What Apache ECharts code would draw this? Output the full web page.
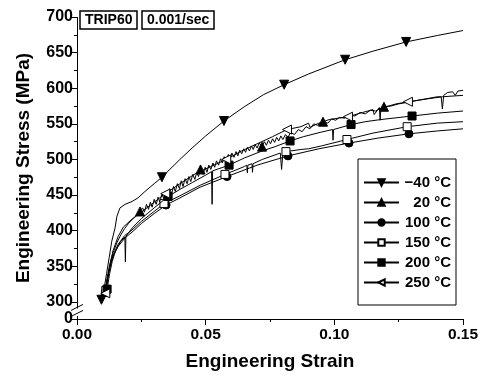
<!DOCTYPE html>
<html><head><meta charset="utf-8">
<script src="https://cdn.jsdelivr.net/npm/echarts@6/dist/echarts.min.js"></script>
<style>html,body{margin:0;padding:0;background:#fff}#c{width:488px;height:376px}</style>
</head><body><div id="c"></div>
<script>
// ---- data (strain, engineering stress MPa) ----
const names = ['\u221240 \u00b0C', '20 \u00b0C', '100 \u00b0C', '150 \u00b0C', '200 \u00b0C', '250 \u00b0C'];

const xM40 = [0.0095,0.0105,0.0115,0.0125,0.0135,0.0148,0.0155,0.0167,0.0187,0.0214,0.0237,0.0264,0.0300,0.0330,0.0400,0.0450,0.0500,0.0571,0.0650,0.0725,0.0805,0.0900,0.1042,0.1150,0.1279,0.1400,0.1500];
const yM40 = [303,318,340,362,385,404,420,432,437,441,446,455,466,475,500,517,533,554,574,591,605,620,640,652,665,674,681];
const mM40 = [0.0095,0.0330,0.0571,0.0805,0.1042,0.1279];

const x20 = [0.0100,0.0108,0.0118,0.0128,0.0140,0.0155,0.0170,0.0185,0.0200,0.0215,0.0230,0.0245,
0.0255,0.0262,0.0270,0.0278,0.0285,0.0292,0.0300,0.0308,0.0315,0.0322,0.0330,0.0338,0.0345,0.0352,0.0360,0.0368,0.0375,0.0382,0.0390,0.0398,0.0405,0.0412,0.0420,0.0428,0.0435,0.0442,0.0450,0.0458,0.0465,0.0472,0.0480,0.0490,0.0498,0.0505,0.0512,0.0520,0.0528,0.0535,0.0542,0.0550,0.0558,0.0565,0.0572,0.0580,0.0588,0.0595,0.0602,0.0610,0.0618,0.0625,0.0632,0.0640,0.0648,0.0655,0.0662,0.0670,0.0678,0.0685,0.0692,0.0700,0.0708,0.0719,0.0728,0.0736,0.0744,0.0752,0.0760,0.0768,0.0776,0.0784,0.0792,0.0800,0.0810,0.0820,0.0830,0.0845,0.0860,0.0875,0.0890,0.0905,0.0920,0.0935,0.0956,0.0975,0.0990,0.1005,0.1020,0.1040,0.1060,0.1080,0.1100,0.1120,0.1140,0.1160,0.1193,0.1220,0.1250,0.1280,0.1310,0.1340,0.1370,0.1400,0.1415,0.1420,0.1425,0.1440,0.1460,0.1470,0.1480,0.1500];
const y20 = [304,314,336,354,369,383,394,403,410,416,421,427,
432,426,437,430,440,433,444,437,447,440,452,444,455,448,459,452,462,455,466,459,470,462,473,466,476,469,479,472,482,476,486,479,489,482,492,486,495,489,498,492,501,495,504,498,507,501,509,503,511,505,513,508,515,510,517,512,519,514,521,516,523,518,525,520,527,522,529,524,531,526,533,528,535,531,538,535,542,539,546,543,550,548,553,551,557,555,559,558,562,561,566,564,569,568,574,575,578,580,582,584,586,588,588,571,590,594,595,590,596,597];
const m20 = [0.0108,0.0245,0.0480,0.0719,0.0956,0.1193];

const x100 = [0.0100,0.0110,0.0120,0.0130,0.0140,0.0160,0.0187,0.0214,0.0250,0.0300,0.0346,0.0400,0.0478,0.0583,0.0700,0.0820,0.0940,0.1057,0.1170,0.1290,0.1400,0.1500];
const y100 = [305,314,336,352,364,378,390,398,410,424,436,446,461,476,492,505,515,523,530,536,540,543];
const m100 = [0.0110,0.0346,0.0583,0.0820,0.1057,0.1290];

const x150 = [0.0100,0.0112,0.0122,0.0132,0.0142,0.0160,0.0185,0.0214,0.0250,0.0300,0.0338,0.0400,0.0480,0.0575,0.0650,0.0660,0.0662,0.0664,0.0680,0.0682,0.0684,0.0720,0.0790,0.0795,0.0800,0.0812,0.0870,0.0900,0.0950,0.1049,0.1150,0.1283,0.1400,0.1500];
const y150 = [304,316,338,355,367,381,393,401,413,427,438,449,464,479,490,492,481,492,494,482,494,500,509,486,509,511,514,515,519,528,537,546,551,553];
const m150 = [0.0112,0.0338,0.0575,0.0812,0.1049,0.1283];

const x200 = [0.0100,0.0117,0.0127,0.0137,0.0150,0.0170,0.0186,0.0188,0.0190,0.0215,0.0250,0.0300,0.0354,0.0400,0.0450,0.0500,0.0523,0.0525,0.0527,0.0591,0.0650,0.0720,0.0770,0.0828,0.0880,0.0945,0.0993,0.0995,0.0997,0.1065,0.1120,0.1180,0.1302,0.1400,0.1500];
const y200 = [304,318,340,357,372,385,391,356,392,404,417,432,448,458,468,478,483,437,484,492,502,512,518,526,532,538,542,527,542,549,553,556,561,565,568];
const m200 = [0.0117,0.0354,0.0591,0.0828,0.1065,0.1302];

const x250 = [0.0100,0.0110,0.0120,0.0130,0.0140,0.0160,0.0180,0.0210,0.0250,0.0300,0.0343,0.0400,0.0460,0.0520,0.0580,0.0640,0.0700,0.0760,0.0816,0.0870,0.0900,0.0905,0.0940,0.0980,0.1053,0.1110,0.1150,0.1155,0.1175,0.1178,0.1181,0.1240,0.1286,0.1360,0.1420,0.1500];
const y250 = [303,312,335,355,372,392,405,415,426,440,452,466,480,490,500,512,522,532,542,546,551,545,551,556,560,566,570,563,573,555,572,578,581,585,588,590];
const m250 = [0.0110,0.0343,0.0580,0.0816,0.1053,0.1286];

const xTicks = [0, 0.05, 0.10, 0.15];
const yTicks = [0, 300, 350, 400, 450, 500, 550, 600, 650, 700];
const yMinor = [325, 375, 425, 475, 525, 575, 625, 675];

// ---- build ----
function build(xs, ys, marks) {
  return xs.map((x, i) => marks.indexOf(x) >= 0
    ? { value: [x, ys[i]] }
    : { value: [x, ys[i]], symbol: 'none', symbolSize: 0 });
}
const defs = [
  [xM40, yM40, mM40, 'triangle', 180, true],
  [x20, y20, m20, 'triangle', 0, true],
  [x100, y100, m100, 'circle', 0, true],
  [x150, y150, m150, 'rect', 0, false],
  [x200, y200, m200, 'rect', 0, true],
  [x250, y250, m250, 'triangle', 90, false]
];
const series = defs.map((d, k) => ({
  name: names[k], type: 'line', data: build(d[0], d[1], d[2]),
  symbol: d[3], symbolRotate: d[4], symbolSize: d[3] === 'triangle' ? 9 : 8,
  showSymbol: true, showAllSymbol: true, smooth: false, clip: true,
  lineStyle: { color: '#000', width: 1 },
  itemStyle: { color: d[5] ? '#000' : '#fff', borderColor: '#000', borderWidth: 1 },
  emphasis: { disabled: true }, z: 2 + k
}));

const BRK = [{ start: 4, end: 290, gap: 10 }];
const F = '"Liberation Sans", Arial, Helvetica, sans-serif';
const chart = echarts.init(document.getElementById('c'), null, { renderer: 'canvas' });
chart.setOption({
  animation: false,
  backgroundColor: '#fff',
  title: [
    { text: 'TRIP60', left: 80, top: 11, padding: [2, 5], borderWidth: 1.5, borderColor: '#000',
      textStyle: { fontFamily: F, fontSize: 14, fontWeight: 'bold', color: '#000' } },
    { text: '0.001/sec', left: 142, top: 11, padding: [2, 5], borderWidth: 1.5, borderColor: '#000',
      textStyle: { fontFamily: F, fontSize: 14, fontWeight: 'bold', color: '#000' } }
  ],
  grid: { left: 77, right: 25, top: 17, bottom: 54, containLabel: false },
  legend: {
    orient: 'vertical', left: 358, top: 159,
    padding: [16, 5, 15, 5], itemGap: 5, itemWidth: 35, itemHeight: 8,
    borderColor: '#000', borderWidth: 1, backgroundColor: '#fff',
    formatter: n => '{a|' + n + '}',
    textStyle: { fontFamily: F, fontSize: 15, fontWeight: 'bold', color: '#000',
      rich: { a: { fontFamily: F, fontSize: 15, fontWeight: 'bold', color: '#000', width: 47, align: 'right', lineHeight: 16 } } },
    data: names
  },
  xAxis: {
    type: 'value', min: 0, max: 0.15, interval: 0.05,
    name: 'Engineering Strain', nameLocation: 'middle', nameGap: 33,
    nameTextStyle: { fontFamily: F, fontSize: 19, fontWeight: 'bold', color: '#000' },
    axisLine: { show: true, lineStyle: { color: '#000', width: 1 } },
    axisTick: { show: true, inside: false, length: 6, lineStyle: { color: '#000' } },
    minorTick: { show: true, splitNumber: 2, length: 3, lineStyle: { color: '#000' } },
    splitLine: { show: false },
    axisLabel: { fontFamily: F, fontSize: 15.5, fontWeight: 'bold', color: '#000', margin: 8,
      formatter: v => { const t = xTicks.find(q => Math.abs(q - v) < 1e-9); return t === undefined ? '' : t.toFixed(2); } }
  },
  yAxis: [{
    type: 'value', min: 0, max: 700, interval: 50,
    breaks: BRK,
    breakArea: { show: false },
    breakLabelLayout: { moveOverlap: false },
    name: 'Engineering Stress (MPa)', nameLocation: 'middle', nameGap: 44,
    nameTextStyle: { fontFamily: F, fontSize: 19, fontWeight: 'bold', color: '#000' },
    axisLine: { show: true, lineStyle: { color: '#000', width: 1 } },
    axisTick: { show: true, inside: false, length: 6, lineStyle: { color: '#000' }, customValues: yTicks },
    minorTick: { show: false },
    splitLine: { show: false },
    axisLabel: { fontFamily: F, fontSize: 16, fontWeight: 'bold', color: '#000', margin: 4,
      hideOverlap: false, showMinLabel: true, showMaxLabel: true, customValues: yTicks,
      formatter: v => (yTicks.indexOf(Math.round(v)) >= 0 ? String(Math.round(v)) : '') }
  }, {
    type: 'value', min: 0, max: 700, position: 'left',
    breaks: BRK,
    breakArea: { show: false },
    axisLine: { show: false },
    axisLabel: { show: false },
    splitLine: { show: false },
    axisTick: { show: true, inside: false, length: 3, lineStyle: { color: '#000' }, customValues: yMinor }
  }],
  series: series
});

// break marks on the y axis line, positioned through the axis scale
const pA = chart.convertToPixel({ yAxisIndex: 0 }, 0);
const pB = chart.convertToPixel({ yAxisIndex: 0 }, 300);
const ax = chart.convertToPixel({ xAxisIndex: 0 }, 0);
const mid = (pA + pB) / 2;
chart.setOption({
  graphic: [
    { type: 'rect', shape: { x: ax - 3, y: mid - 2, width: 6, height: 4 }, style: { fill: '#fff' }, z: 100 },
    { type: 'line', shape: { x1: ax - 6, y1: mid, x2: ax + 6, y2: mid - 6 }, style: { stroke: '#000', lineWidth: 1 }, z: 101 },
    { type: 'line', shape: { x1: ax - 6, y1: mid + 6, x2: ax + 6, y2: mid }, style: { stroke: '#000', lineWidth: 1 }, z: 101 }
  ]
});
</script></body></html>
